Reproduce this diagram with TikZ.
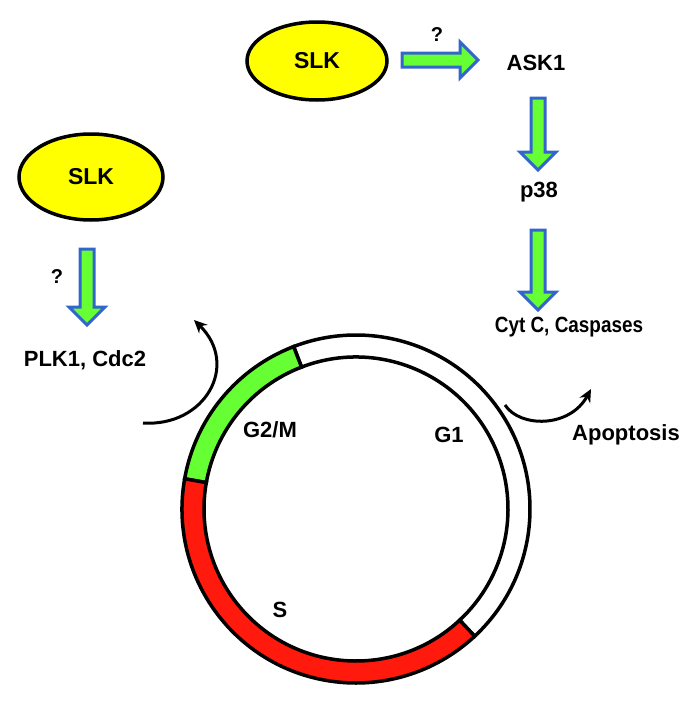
\documentclass[tikz,border=0pt]{standalone}
\usepackage{fontspec}
\setmainfont{Liberation Sans}
\usetikzlibrary{arrows.meta}
\definecolor{slkyellow}{HTML}{FFFF00}
\definecolor{agreen}{HTML}{66FF33}
\definecolor{ablue}{HTML}{3366CC}
\definecolor{sred}{HTML}{FF1A0D}
\definecolor{ggreen}{HTML}{66FF33}
\tikzset{
  slk/.style={ellipse, draw=black, line width=3.5pt, fill=slkyellow, inner sep=0pt,
     font=\fontsize{23}{26}\selectfont\bfseries},
  lbl/.style={inner sep=0pt, font=\fontsize{22}{26}\selectfont\bfseries},
  qm/.style={inner sep=0pt, font=\fontsize{20}{24}\selectfont\bfseries},
  blk/.style={draw=ablue, fill=agreen, line width=3pt, line join=miter},
  curv/.style={draw=black, line width=3pt, -{Stealth[length=13pt,width=12pt]}},
  ring/.style={draw=black, line width=3.5pt, line join=miter},
  pics/barrow/.style={code={
    \path[blk] (0,-7) -- (#1-18,-7) -- (#1-18,-18) -- (#1,0) -- (#1-18,18) -- (#1-18,7) -- (0,7) -- cycle;
  }}
}
\usetikzlibrary{shapes.geometric}
\begin{document}
\begin{tikzpicture}[x=1pt,y=-1pt]
\useasboundingbox (0,0) rectangle (700,704);
% ellipses
\node[slk, minimum width=140pt, minimum height=78pt] (slktop) at (317,61) {SLK};
\node[slk, minimum width=144pt, minimum height=86pt] (slkleft) at (91,177) {SLK};
% text labels
\node[lbl] (ask) at (536,63) {ASK1};
\node[lbl] (p38) at (539,192) {p38};
\node[lbl, xscale=0.86, transform shape] (cyt) at (569,327) {Cyt C, Caspases};
\node[lbl] (plk) at (85,360) {PLK1, Cdc2};
\node[lbl] (g2m) at (270,430) {G2/M};
\node[lbl] (g1) at (449,435) {G1};
\node[lbl] (apo) at (626,435) {Apoptosis};
\node[lbl] (s) at (280,610) {S};
\node[qm] (q1) at (437,35) {?};
\node[qm] (q2) at (57,277) {?};
% block arrows
\pic at (402,60) {barrow=76};
\pic[rotate=-90] at (538,98) {barrow=72};
\pic[rotate=-90] at (538,230) {barrow=80};
\pic[rotate=-90] at (87,249) {barrow=76};
% cell cycle ring
\begin{scope}[shift={(356,509)}, yscale=-1]
  \path[ring, fill=white] (313:174) arc[start angle=313, end angle=471, radius=174]
     -- (471:152) arc[start angle=471, end angle=313, radius=152] -- cycle;
  \path[ring, fill=ggreen] (111:174) arc[start angle=111, end angle=170, radius=174]
     -- (170:152) arc[start angle=170, end angle=111, radius=152] -- cycle;
  \path[ring, fill=sred] (170:174) arc[start angle=170, end angle=313, radius=174]
     -- (313:152) arc[start angle=313, end angle=170, radius=152] -- cycle;
\end{scope}
% curved arrows
\coordinate (la0) at (143,423);
\coordinate (la1) at (194,320);
\coordinate (ra0) at (505,405);
\coordinate (ra1) at (591,389);
\draw[curv] (la0) .. controls (205,427) and (240,365) .. (la1);
\draw[curv] (ra0) .. controls (520,428) and (570,428) .. (ra1);
\end{tikzpicture}
\end{document}
